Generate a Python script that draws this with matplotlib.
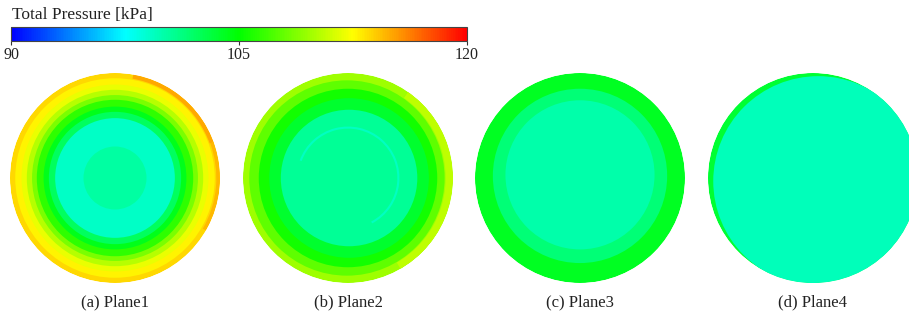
import matplotlib
matplotlib.use("Agg")
import matplotlib.pyplot as plt
from matplotlib.colors import LinearSegmentedColormap, Normalize
from matplotlib.patches import Circle, Wedge
from matplotlib.cm import ScalarMappable

plt.rcParams['font.family'] = ['Liberation Serif', 'DejaVu Serif']

# pressure range of the legend [kPa]
p_min, p_max = 90, 120
p_ticks = [90, 105, 120]

labels = ["(a) Plane1", "(b) Plane2", "(c) Plane3", "(d) Plane4"]

# contour bands per plane: outer radius (r/R) and total pressure [kPa]
plane1_r = [1.00, 0.95, 0.89, 0.84, 0.79, 0.745, 0.68, 0.63, 0.57, 0.30]
plane1_p = [113.6, 112.8, 111.8, 110.3, 108.6, 106.3, 104.2, 102.2, 99.2, 100.3]
plane2_r = [1.00, 0.93, 0.85, 0.76, 0.65]
plane2_p = [109.6, 107.8, 105.5, 103.6, 100.6]
plane3_r = [1.00, 0.83, 0.71]
plane3_p = [104.0, 101.5, 100.0]
plane4_r = [1.00, 1.00]
plane4_p = [103.5, 99.6]

# band centre shift (dx, dy) in r/R
plane1_c = [(0, 0)] * 10
plane2_c = [(0, 0), (-0.01, 0), (0, 0), (0.01, 0.0), (0.01, 0.0)]
plane3_c = [(0, 0), (0.0, 0.02), (0.0, 0.03)]
plane4_c = [(0, 0), (0.05, -0.03)]

# local high/low spots: angle from, angle to [deg], r inner, r outer, pressure
plane1_spots = [(20, 80, 0.96, 1.0, 115.0), (-30, 20, 0.965, 1.0, 114.6)]
plane2_spots = [(-60, 55, 0.93, 1.0, 110.6), (-62, 160, 0.47, 0.49, 99.3)]
plane3_spots = []
plane4_spots = []

planes = [
    (plane1_r, plane1_p, plane1_c, plane1_spots),
    (plane2_r, plane2_p, plane2_c, plane2_spots),
    (plane3_r, plane3_p, plane3_c, plane3_spots),
    (plane4_r, plane4_p, plane4_c, plane4_spots),
]

cmap = LinearSegmentedColormap.from_list(
    "pressure",
    [(0.0, "#0000ff"), (0.25, "#00ffff"), (0.5, "#00ff00"),
     (0.75, "#ffff00"), (1.0, "#ff0000")])
norm = Normalize(vmin=p_min, vmax=p_max)

W, H = 909, 320
fig = plt.figure(figsize=(W / 100, H / 100), dpi=100)

# colour legend
cax = fig.add_axes([11 / W, (H - 41) / H, 456 / W, 14 / H])
cb = fig.colorbar(ScalarMappable(norm=norm, cmap=cmap), cax=cax,
                  orientation="horizontal", ticks=p_ticks)
cb.outline.set_edgecolor("#444444")
cb.outline.set_linewidth(0.8)
cax.tick_params(length=3, width=0.8, color="#333333", labelsize=11.5,
                labelcolor="#222222", pad=1)
fig.text(12 / W, (H - 15) / H, "Total Pressure [kPa]", fontsize=12.5,
         color="#222222", va="center", ha="left")

centres_x = [115, 348, 580, 813]
centre_y = 178
R = 105

for i, (radii, press, shifts, spots) in enumerate(planes):
    ax = fig.add_axes([(centres_x[i] - R) / W, (H - centre_y - R) / H,
                       2 * R / W, 2 * R / H])
    ax.set_xlim(-1, 1)
    ax.set_ylim(-1, 1)
    ax.set_aspect("equal")
    ax.axis("off")

    outline = Circle((0, 0), 1.0, transform=ax.transData)
    for r, p, (dx, dy) in zip(radii, press, shifts):
        c = Circle((dx, dy), r, facecolor=cmap(norm(p)), lw=0)
        ax.add_patch(c)
        c.set_clip_path(outline)
    for t1, t2, r_in, r_out, p in spots:
        w = Wedge((0, 0), r_out, t1, t2, width=r_out - r_in,
                  facecolor=cmap(norm(p)), lw=0)
        ax.add_patch(w)
        w.set_clip_path(outline)

    fig.text(centres_x[i] / W, (H - 302) / H, labels[i], fontsize=12,
             color="#222222", ha="center", va="center")

fig.savefig("out.png", dpi=100)
